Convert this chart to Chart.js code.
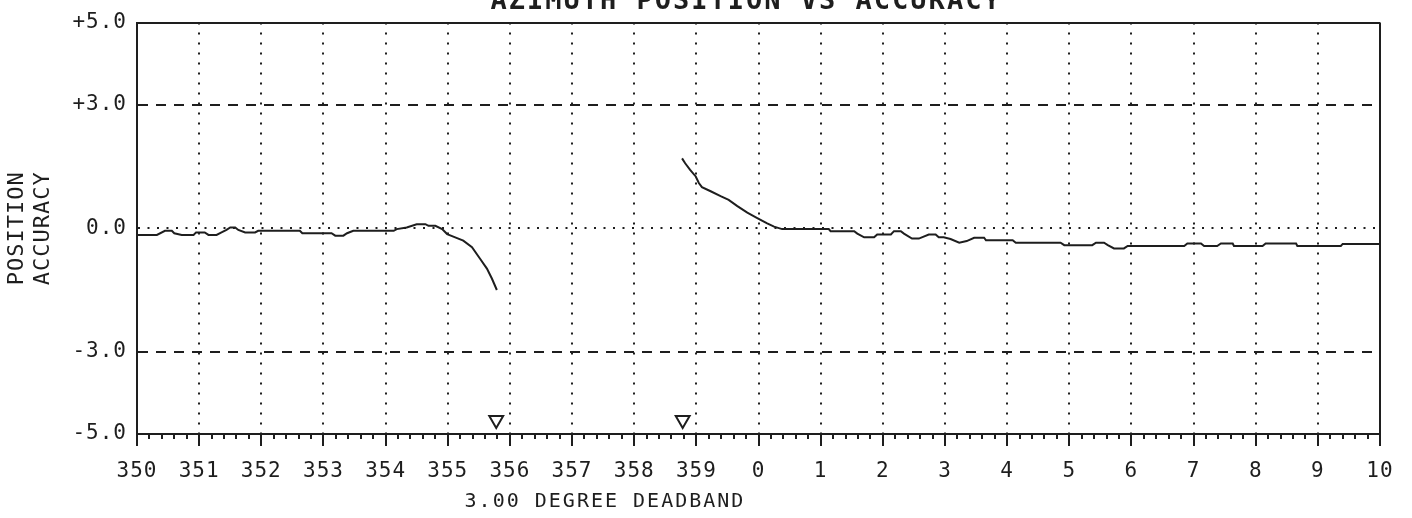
<!DOCTYPE html>
<html>
<head>
<meta charset="utf-8">
<script src="https://cdn.jsdelivr.net/npm/chart.js@4.4.1/dist/chart.umd.min.js"></script>
<style>
  html, body { margin: 0; padding: 0; background: #fff; overflow: hidden; }
  canvas { display: block; }
</style>
</head>
<body>
<canvas id="chart" width="1412" height="518"></canvas>
<script>
// --- dati ---
const chartTitle = 'AZIMUTH POSITION VS ACCURACY';
const xTitle = '3.00 DEGREE DEADBAND';
const yTitleLines = ['POSITION', 'ACCURACY'];

// asse x continuo: 0 = 350 gradi, 10 = 0 gradi, 20 = 10 gradi
const xTickLabels = ['350', '351', '352', '353', '354', '355', '356', '357', '358', '359',
                     '0', '1', '2', '3', '4', '5', '6', '7', '8', '9', '10'];
const yTickValues = [-5, -3, 0, 3, 5];
const yTickLabels = ['-5.0', '-3.0', '0.0', '+3.0', '+5.0'];

// tratto prima della banda morta
const leftX = [0.0, 0.32, 0.45, 0.56, 0.60, 0.72, 0.91, 0.95, 1.09, 1.15, 1.28, 1.36, 1.44, 1.50,
               1.58, 1.63, 1.74, 1.90, 1.95, 2.62, 2.66, 3.13, 3.19, 3.32, 3.38, 3.48, 4.13, 4.18,
               4.34, 4.50, 4.64, 4.69, 4.80, 4.91, 4.99, 5.12, 5.25, 5.39, 5.52, 5.63, 5.71, 5.79];
const leftY = [-0.16, -0.16, -0.06, -0.06, -0.12, -0.16, -0.16, -0.10, -0.10, -0.16, -0.16, -0.10, -0.04, 0.02,
               0.02, -0.04, -0.10, -0.10, -0.06, -0.06, -0.12, -0.12, -0.18, -0.18, -0.12, -0.06, -0.06, -0.02,
               0.02, 0.10, 0.10, 0.06, 0.06, -0.02, -0.14, -0.22, -0.30, -0.46, -0.74, -0.98, -1.22, -1.50];

// tratto dopo la banda morta
const rightX = [8.77, 8.82, 8.90, 8.99, 9.04, 9.09, 9.23, 9.39, 9.52, 9.66, 9.82, 9.98, 10.14, 10.25,
                10.38, 11.13, 11.16, 11.54, 11.59, 11.70, 11.86, 11.91, 12.13, 12.18, 12.29, 12.34,
                12.47, 12.58, 12.74, 12.85, 12.90, 12.98, 13.09, 13.23, 13.35, 13.47, 13.63, 13.66,
                14.09, 14.14, 14.86, 14.92, 15.37, 15.43, 15.56, 15.62, 15.72, 15.88, 15.94, 16.85,
                16.90, 17.12, 17.17, 17.38, 17.44, 17.63, 17.65, 18.11, 18.16, 18.65, 18.67, 19.37,
                19.40, 20.0];
const rightY = [1.70, 1.58, 1.42, 1.26, 1.10, 1.00, 0.90, 0.78, 0.69, 0.54, 0.38, 0.25, 0.12, 0.04,
                -0.02, -0.02, -0.07, -0.07, -0.13, -0.22, -0.22, -0.15, -0.15, -0.07, -0.07, -0.13,
                -0.25, -0.25, -0.15, -0.15, -0.22, -0.22, -0.26, -0.35, -0.31, -0.23, -0.23, -0.29,
                -0.29, -0.35, -0.35, -0.41, -0.41, -0.35, -0.35, -0.41, -0.49, -0.49, -0.43, -0.43,
                -0.37, -0.37, -0.43, -0.43, -0.37, -0.37, -0.43, -0.43, -0.37, -0.37, -0.43, -0.43,
                -0.38, -0.38];

// marcatori della banda morta
const deadbandX = [5.78, 8.78];
const deadbandY = [-4.66, -4.66];

const INK = '#1e1e1e';
const FONT = '"DejaVu Sans Mono", "Liberation Mono", monospace';

const toPoints = (xs, ys) => xs.map((x, i) => ({ x: x, y: ys[i] }));

// --- tacche minori e testi liberi ---
const extrasPlugin = {
    id: 'extras',
    beforeDraw(chart) {
        // spaziatura larga dei caratteri, come sulla stampa originale
        chart.ctx.letterSpacing = '1px';
    },
    afterDraw(chart) {
        const { ctx, chartArea, scales } = chart;
        const x = scales.x;
        ctx.save();
        ctx.strokeStyle = INK;
        ctx.lineWidth = 2;
        for (let i = 1; i < 100; i++) {
            if (i % 5 === 0) continue;
            const px = Math.round(x.getPixelForValue(i / 5));
            ctx.beginPath();
            ctx.moveTo(px, chartArea.bottom);
            ctx.lineTo(px, chartArea.bottom + 5);
            ctx.stroke();
        }
        ctx.fillStyle = INK;
        ctx.textAlign = 'center';
        ctx.textBaseline = 'alphabetic';
        ctx.letterSpacing = '2px';
        ctx.font = 'bold 27px ' + FONT;
        ctx.fillText(chartTitle, x.getPixelForValue(9.8), 9);
        ctx.font = '20px ' + FONT;
        ctx.fillText(xTitle, x.getPixelForValue(7.53), 507);
        ctx.restore();
    }
};

const ctx = document.getElementById('chart').getContext('2d');
new Chart(ctx, {
    type: 'line',
    data: {
        datasets: [
            {
                data: toPoints(leftX, leftY),
                borderColor: INK,
                borderWidth: 2,
                pointRadius: 0,
                tension: 0,
                fill: false
            },
            {
                data: toPoints(rightX, rightY),
                borderColor: INK,
                borderWidth: 2,
                pointRadius: 0,
                tension: 0,
                fill: false
            },
            {
                data: toPoints(deadbandX, deadbandY),
                showLine: false,
                pointStyle: 'triangle',
                rotation: 180,
                pointRadius: 8,
                pointBorderWidth: 2,
                pointBorderColor: INK,
                pointBackgroundColor: '#fff'
            }
        ]
    },
    options: {
        responsive: false,
        animation: false,
        events: [],
        layout: { padding: { left: 0, top: 18, right: 32, bottom: 0 } },
        plugins: {
            legend: { display: false },
            tooltip: { enabled: false },
            title: { display: false }
        },
        scales: {
            x: {
                type: 'linear',
                min: 0,
                max: 20,
                afterFit: s => { s.height = 84; },
                ticks: {
                    stepSize: 1,
                    autoSkip: false,
                    maxRotation: 0,
                    padding: 13,
                    color: INK,
                    font: { family: FONT, size: 21 },
                    callback: v => xTickLabels[Math.round(v)]
                },
                grid: {
                    color: INK,
                    lineWidth: 2,
                    drawTicks: true,
                    tickLength: 12,
                    tickColor: INK,
                    tickWidth: 2
                },
                border: {
                    display: true,
                    color: INK,
                    width: 2,
                    dash: c => (c.tick && c.tick.value > 0 && c.tick.value < 20) ? [2, 8] : []
                }
            },
            y: {
                min: -5,
                max: 5,
                afterFit: s => { s.width = 137; },
                afterBuildTicks: s => { s.ticks = yTickValues.map(v => ({ value: v })); },
                title: {
                    display: true,
                    text: yTitleLines,
                    color: INK,
                    font: { family: FONT, size: 22, lineHeight: 1.15 },
                    padding: { top: 5, bottom: 0 }
                },
                ticks: {
                    padding: 10,
                    color: INK,
                    font: { family: FONT, size: 21 },
                    callback: v => yTickLabels[yTickValues.indexOf(v)]
                },
                grid: {
                    color: INK,
                    lineWidth: 2,
                    drawTicks: false
                },
                border: {
                    display: true,
                    color: INK,
                    width: 2,
                    dash: c => {
                        if (!c.tick) return [];
                        const v = c.tick.value;
                        if (v === 0) return [2, 7.5];
                        if (Math.abs(v) === 3) return [10, 8];
                        return [];
                    }
                }
            }
        }
    },
    plugins: [extrasPlugin]
});
</script>
</body>
</html>
